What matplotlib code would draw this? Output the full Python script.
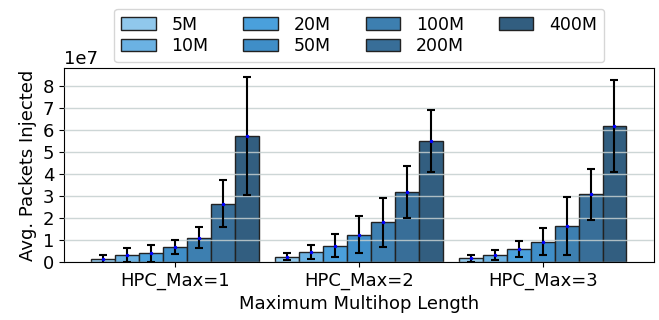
import numpy as np
import matplotlib
matplotlib.use('Agg')
import matplotlib.pyplot as plt

groups = ['HPC_Max=1', 'HPC_Max=2', 'HPC_Max=3']
sizes = ['5M', '10M', '20M', '50M', '100M', '200M', '400M']
colors = ['#90c8ec', '#6bb2e3', '#4aa0dc', '#3f8ec8', '#3d7fb0', '#386e98', '#325e80']

# mean packets injected (x1e7), one list per size, values for HPC_Max=1,2,3
means = [
    [0.15, 0.24, 0.18],
    [0.32, 0.47, 0.33],
    [0.39, 0.74, 0.59],
    [0.69, 1.25, 0.92],
    [1.10, 1.81, 1.63],
    [2.65, 3.18, 3.07],
    [5.71, 5.48, 6.17],
]
errs = [
    [0.18, 0.15, 0.16],
    [0.31, 0.31, 0.23],
    [0.37, 0.53, 0.37],
    [0.31, 0.82, 0.61],
    [0.48, 1.11, 1.31],
    [1.06, 1.18, 1.17],
    [2.68, 1.40, 2.08],
]

fig = plt.figure(figsize=(6.59, 3.2), dpi=100)
ax = fig.add_axes([0.097, 0.181, 0.8954, 0.6065])

x = np.arange(len(groups))
w = 0.13
for i, s in enumerate(sizes):
    pos = x + (i - 3) * w
    m = np.array(means[i]) * 1e7
    e = np.array(errs[i]) * 1e7
    ax.bar(pos, m, w, color=colors[i], edgecolor='#222222', linewidth=1, label=s, zorder=2)
    ax.errorbar(pos, m, yerr=e, fmt='.', color='blue', markersize=3, ecolor='black',
                elinewidth=1.5, capsize=3, capthick=1.5, zorder=3)

ax.yaxis.grid(True, color='#c5cfcf', linewidth=1, alpha=0.85, zorder=2.5)
ax.set_axisbelow(False)
ax.set_xticks(x)
ax.set_xticklabels(groups, fontsize=13)
ax.set_yticks(np.arange(0, 9) * 1e7)
ax.tick_params(axis='y', labelsize=13)
ax.yaxis.get_offset_text().set_fontsize(13)
ax.set_ylim(0, 8.8e7)
ax.set_xlim(-0.605, 2.605)
ax.set_xlabel('Maximum Multihop Length', fontsize=13)
ax.set_ylabel('Avg. Packets Injected', fontsize=13)
fig.legend(loc='upper center', bbox_to_anchor=(0.545, 1.0), ncol=4, fontsize=12.5,
           handlelength=2.0, columnspacing=2.0, labelspacing=0.2, handletextpad=0.9)
fig.savefig('out.png', dpi=100)
